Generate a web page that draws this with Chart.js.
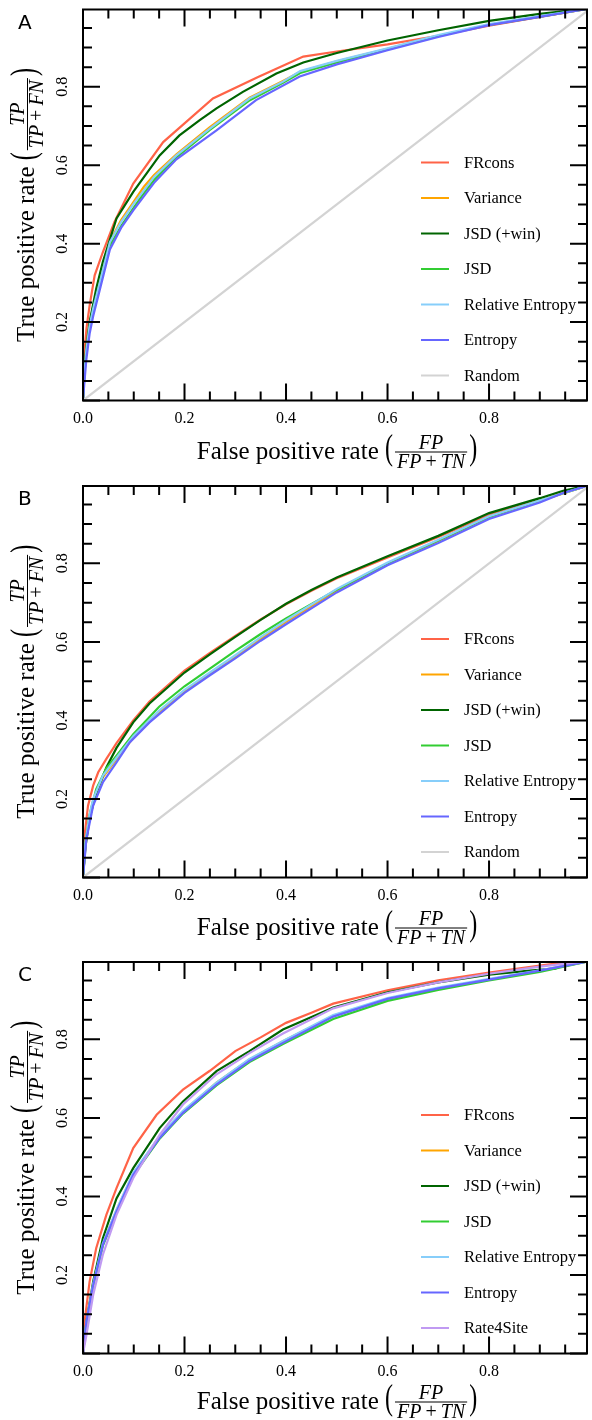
<!DOCTYPE html>
<html lang="en">
<head>
<meta charset="UTF-8" />
<title>ROC curves</title>
<script src="https://cdn.jsdelivr.net/npm/chart.js"></script>
<style>
  body { margin: 0; background: #fff; }
  canvas { display: block; }
</style>
</head>
<body>
<canvas id="rocA" width="592" height="473"></canvas>
<canvas id="rocB" width="592" height="473"></canvas>
<canvas id="rocC" width="592" height="474"></canvas>

<script>
// ---- data: [false positive rate, true positive rate] ----

// panel A
const frconsA = [[0,0],[0.002,0.09],[0.004,0.14],[0.007,0.185],[0.013,0.242],[0.023,0.319],[0.039,0.378],[0.062,0.455],[0.099,0.553],[0.158,0.659],[0.256,0.770],[0.345,0.825],[0.434,0.877],[0.5,0.89],[0.6,0.908],[0.7,0.93],[0.8,0.956],[0.9,0.978],[1,1]];
const varianceA = [[0,0],[0.003,0.075],[0.0066,0.135],[0.013,0.195],[0.02,0.24],[0.033,0.305],[0.053,0.405],[0.075,0.46],[0.099,0.505],[0.12,0.545],[0.14,0.575],[0.184,0.628],[0.25,0.697],[0.328,0.772],[0.394,0.815],[0.428,0.838],[0.5,0.865],[0.6,0.897],[0.7,0.93],[0.8,0.958],[0.9,0.979],[1,1]];
const jsdWinA = [[0,0],[0.003,0.08],[0.006,0.13],[0.013,0.2],[0.026,0.285],[0.039,0.353],[0.066,0.464],[0.099,0.532],[0.151,0.625],[0.19,0.676],[0.23,0.715],[0.263,0.745],[0.315,0.787],[0.381,0.834],[0.434,0.862],[0.5,0.886],[0.6,0.918],[0.7,0.944],[0.8,0.968],[0.9,0.986],[1,1]];
const jsdA = [[0,0],[0.003,0.07],[0.0066,0.125],[0.013,0.185],[0.02,0.228],[0.033,0.295],[0.053,0.395],[0.075,0.445],[0.099,0.49],[0.115,0.52],[0.14,0.562],[0.184,0.62],[0.25,0.69],[0.328,0.765],[0.394,0.81],[0.428,0.835],[0.5,0.862],[0.6,0.896],[0.7,0.93],[0.8,0.958],[0.9,0.979],[1,1]];
const relEntA = [[0,0],[0.003,0.07],[0.0066,0.13],[0.013,0.19],[0.02,0.234],[0.033,0.3],[0.053,0.404],[0.075,0.455],[0.099,0.5],[0.14,0.57],[0.184,0.625],[0.25,0.693],[0.328,0.77],[0.394,0.813],[0.428,0.84],[0.5,0.866],[0.6,0.898],[0.7,0.932],[0.8,0.96],[0.9,0.98],[1,1]];
const entropyA = [[0,0],[0.003,0.05],[0.0066,0.105],[0.013,0.17],[0.02,0.215],[0.033,0.282],[0.053,0.385],[0.075,0.44],[0.099,0.485],[0.14,0.555],[0.184,0.615],[0.263,0.689],[0.341,0.766],[0.427,0.826],[0.5,0.857],[0.6,0.893],[0.7,0.927],[0.8,0.957],[0.9,0.978],[1,1]];

// panel B
const frconsB = [[0,0],[0.003,0.106],[0.0099,0.183],[0.02,0.234],[0.03,0.268],[0.046,0.302],[0.066,0.342],[0.099,0.4],[0.131,0.448],[0.2,0.527],[0.25,0.572],[0.3,0.615],[0.35,0.657],[0.4,0.696],[0.45,0.73],[0.5,0.762],[0.6,0.815],[0.7,0.867],[0.8,0.924],[0.9,0.963],[1,1]];
const varianceB = [[0,0],[0.005,0.086],[0.013,0.156],[0.02,0.196],[0.039,0.255],[0.066,0.301],[0.099,0.356],[0.15,0.421],[0.2,0.474],[0.25,0.518],[0.3,0.562],[0.35,0.608],[0.4,0.651],[0.5,0.731],[0.6,0.798],[0.7,0.857],[0.8,0.918],[0.9,0.959],[1,1]];
const jsdWinB = [[0,0],[0.005,0.08],[0.013,0.15],[0.026,0.215],[0.046,0.28],[0.066,0.33],[0.099,0.395],[0.131,0.443],[0.2,0.522],[0.25,0.568],[0.3,0.613],[0.35,0.656],[0.4,0.697],[0.45,0.732],[0.5,0.764],[0.6,0.818],[0.7,0.87],[0.8,0.928],[0.9,0.966],[0.946,0.985],[1,1]];
const jsdB = [[0,0],[0.005,0.09],[0.013,0.16],[0.026,0.225],[0.046,0.278],[0.066,0.31],[0.099,0.365],[0.15,0.435],[0.2,0.487],[0.25,0.532],[0.3,0.577],[0.35,0.62],[0.4,0.66],[0.5,0.733],[0.6,0.8],[0.7,0.858],[0.8,0.918],[0.9,0.96],[1,1]];
const relEntB = [[0,0],[0.005,0.09],[0.013,0.16],[0.02,0.2],[0.039,0.259],[0.066,0.305],[0.099,0.36],[0.15,0.425],[0.2,0.478],[0.25,0.522],[0.3,0.566],[0.35,0.612],[0.4,0.655],[0.5,0.735],[0.6,0.802],[0.7,0.86],[0.8,0.92],[0.9,0.96],[1,1]];
const entropyB = [[0,0],[0.0066,0.097],[0.02,0.183],[0.039,0.242],[0.066,0.293],[0.092,0.344],[0.131,0.395],[0.2,0.47],[0.25,0.515],[0.3,0.558],[0.35,0.603],[0.4,0.645],[0.5,0.726],[0.6,0.795],[0.7,0.852],[0.8,0.913],[0.9,0.955],[0.946,0.979],[1,1]];

// panel C
const frconsC = [[0,0],[0.003,0.08],[0.013,0.183],[0.026,0.268],[0.046,0.353],[0.066,0.421],[0.099,0.523],[0.145,0.608],[0.197,0.672],[0.25,0.72],[0.3,0.77],[0.35,0.805],[0.4,0.842],[0.45,0.868],[0.493,0.891],[0.6,0.925],[0.7,0.95],[0.8,0.97],[0.9,0.988],[0.95,0.996],[1,1]];
const varianceC = [[0,0],[0.0066,0.08],[0.02,0.176],[0.039,0.279],[0.066,0.365],[0.099,0.458],[0.151,0.552],[0.197,0.616],[0.263,0.69],[0.328,0.749],[0.394,0.795],[0.493,0.86],[0.6,0.903],[0.7,0.93],[0.8,0.952],[0.9,0.975],[1,1]];
const jsdWinC = [[0,0],[0.0066,0.08],[0.02,0.183],[0.039,0.293],[0.066,0.395],[0.099,0.472],[0.151,0.574],[0.197,0.642],[0.263,0.719],[0.328,0.77],[0.394,0.825],[0.493,0.881],[0.6,0.92],[0.7,0.945],[0.8,0.965],[0.88,0.975],[0.93,0.98],[0.96,0.995],[1,1]];
const jsdC = [[0,0],[0.0066,0.078],[0.02,0.172],[0.039,0.274],[0.066,0.36],[0.099,0.453],[0.151,0.547],[0.197,0.611],[0.263,0.683],[0.328,0.742],[0.394,0.788],[0.493,0.852],[0.6,0.898],[0.7,0.926],[0.8,0.95],[0.9,0.972],[1,1]];
const relEntC = [[0,0],[0.0066,0.08],[0.02,0.177],[0.039,0.28],[0.066,0.366],[0.099,0.46],[0.151,0.554],[0.197,0.618],[0.263,0.69],[0.328,0.75],[0.394,0.796],[0.493,0.862],[0.6,0.905],[0.7,0.932],[0.8,0.954],[0.9,0.976],[1,1]];
const entropyC = [[0,0],[0.0066,0.08],[0.02,0.174],[0.039,0.276],[0.066,0.361],[0.099,0.455],[0.151,0.549],[0.197,0.613],[0.263,0.685],[0.328,0.745],[0.394,0.791],[0.493,0.858],[0.6,0.903],[0.7,0.93],[0.8,0.952],[0.9,0.975],[1,1]];
const rate4siteC = [[0,0],[0.0066,0.046],[0.02,0.149],[0.039,0.251],[0.066,0.353],[0.099,0.447],[0.151,0.557],[0.197,0.634],[0.263,0.711],[0.328,0.765],[0.394,0.815],[0.493,0.879],[0.6,0.918],[0.7,0.945],[0.8,0.967],[0.9,0.985],[1,1]];

const randomLine = [[0,0],[1,1]];

// ---- labels, colours, ticks ----
const labelsAB = ["FRcons", "Variance", "JSD (+win)", "JSD", "Relative Entropy", "Entropy", "Random"];
const labelsC = ["FRcons", "Variance", "JSD (+win)", "JSD", "Relative Entropy", "Entropy", "Rate4Site"];
const colorsAB = ["#ff6347", "#ffa500", "#006400", "#32cd32", "#87cefa", "#6666ff", "#d3d3d3"];
const colorsC = ["#ff6347", "#ffa500", "#006400", "#32cd32", "#87cefa", "#6666ff", "#c09af2"];

const xMajor = [0, 0.2, 0.4, 0.6, 0.8];
const xMajorLabels = ["0.0", "0.2", "0.4", "0.6", "0.8"];
const yMajor = [0, 0.2, 0.4, 0.6, 0.8];
const yMajorLabels = ["", "0.2", "0.4", "0.6", "0.8"];
const minorTicks = [0.05, 0.1, 0.15, 0.25, 0.3, 0.35, 0.45, 0.5, 0.55, 0.65, 0.7, 0.75, 0.85, 0.9, 0.95];

const SERIF = '"Liberation Serif", "DejaVu Serif", serif';
const OP_GAP = 4; // space around "+" in the fractions

function runFont(st, size) {
  return (st === "i" ? "italic " : "") + size + "px " + SERIF;
}
function measureRuns(ctx, runs, size) {
  let w = 0;
  for (const [t, st] of runs) {
    ctx.font = runFont(st, size);
    w += ctx.measureText(t).width + (st === "op" ? 2 * OP_GAP : 0);
  }
  return w;
}
function drawRuns(ctx, runs, size, x, y) {
  for (const [t, st] of runs) {
    ctx.font = runFont(st, size);
    if (st === "op") x += OP_GAP;
    ctx.fillText(t, x, y);
    x += ctx.measureText(t).width + (st === "op" ? OP_GAP : 0);
  }
}

// thin, tall parenthesis (like \left( in LaTeX)
function drawParen(ctx, ch, x) {
  ctx.save();
  ctx.font = "24px " + SERIF;
  ctx.translate(x, 0);
  ctx.scale(1, 1.45);
  ctx.fillText(ch, 0, 5.5);
  ctx.restore();
}

// axis title like "False positive rate (FP / (FP+TN))", centred on (cx, cy)
function drawFracTitle(ctx, cx, cy, angle, prefix, num, den) {
  const fs = 20;
  ctx.save();
  ctx.translate(cx, cy);
  ctx.rotate(angle);
  ctx.fillStyle = "#000";
  ctx.textAlign = "left";
  ctx.textBaseline = "alphabetic";
  ctx.font = "25px " + SERIF;
  const wPre = ctx.measureText(prefix + " ").width;
  ctx.font = "24px " + SERIF;
  const wPar = ctx.measureText("(").width;
  const wNum = measureRuns(ctx, num, fs);
  const wDen = measureRuns(ctx, den, fs);
  const wFrac = Math.max(wNum, wDen) + 4;
  const total = wPre + wPar * 2 + wFrac + 4;
  let x = -total / 2;
  ctx.font = "25px " + SERIF;
  ctx.fillText(prefix, x, 7);
  x += wPre;
  drawParen(ctx, "(", x);
  x += wPar + 2;
  drawRuns(ctx, num, fs, x + (wFrac - wNum) / 2, -3);
  drawRuns(ctx, den, fs, x + (wFrac - wDen) / 2, 16);
  ctx.strokeStyle = "#000";
  ctx.lineWidth = 1;
  ctx.beginPath();
  ctx.moveTo(x, 0.5);
  ctx.lineTo(x + wFrac, 0.5);
  ctx.stroke();
  x += wFrac + 2;
  drawParen(ctx, ")", x);
  ctx.restore();
}

const framePlugin = {
  id: "frame",
  afterDraw(chart, args, opts) {
    const ctx = chart.ctx;
    const a = chart.chartArea;
    const xs = chart.scales.x, ys = chart.scales.y;
    ctx.save();
    ctx.strokeStyle = "#000";
    ctx.lineWidth = 2;
    ctx.lineCap = "butt";
    // inward ticks on all four sides
    const tick = (len, vals) => {
      for (const v of vals) {
        const px = xs.getPixelForValue(v);
        const py = ys.getPixelForValue(v);
        ctx.beginPath();
        ctx.moveTo(px, a.bottom); ctx.lineTo(px, a.bottom - len);
        ctx.moveTo(px, a.top); ctx.lineTo(px, a.top + len);
        ctx.moveTo(a.left, py); ctx.lineTo(a.left + len, py);
        ctx.moveTo(a.right, py); ctx.lineTo(a.right - len, py);
        ctx.stroke();
      }
    };
    tick(9, minorTicks);
    tick(17, xMajor);
    ctx.strokeRect(a.left, a.top, a.right - a.left, a.bottom - a.top);

    // tick labels
    ctx.fillStyle = "#000";
    ctx.font = "16px " + SERIF;
    ctx.textAlign = "center";
    ctx.textBaseline = "middle";
    xMajor.forEach((v, i) => {
      ctx.fillText(xMajorLabels[i], xs.getPixelForValue(v), a.bottom + 18);
    });
    yMajor.forEach((v, i) => {
      if (!yMajorLabels[i]) return;
      ctx.save();
      ctx.translate(a.left - 20, ys.getPixelForValue(v));
      ctx.rotate(-Math.PI / 2);
      ctx.fillText(yMajorLabels[i], 0, 0);
      ctx.restore();
    });

    // legend inside the plot
    const ds = chart.data.datasets;
    ds.forEach((d, i) => {
      const y = a.top + 153 + i * 35.5;
      ctx.strokeStyle = d.borderColor;
      ctx.lineWidth = 2;
      ctx.beginPath();
      ctx.moveTo(421, y); ctx.lineTo(449, y);
      ctx.stroke();
      ctx.fillStyle = "#000";
      ctx.font = "16.5px " + SERIF;
      ctx.textAlign = "left";
      ctx.textBaseline = "middle";
      ctx.fillText(d.label, 464, y + 1);
    });

    // axis titles
    drawFracTitle(ctx, (a.left + a.right) / 2 + 2, a.bottom + opts.titleGap, 0,
      "False positive rate", [["FP", "i"]], [["FP", "i"], ["+", "op"], ["TN", "i"]]);
    drawFracTitle(ctx, a.left - 56, (a.top + a.bottom) / 2, -Math.PI / 2,
      "True positive rate", [["TP", "i"]], [["TP", "i"], ["+", "op"], ["FN", "i"]]);

    // panel letter
    ctx.fillStyle = "#000";
    ctx.font = '20px "DejaVu Sans", sans-serif';
    ctx.textAlign = "left";
    ctx.textBaseline = "alphabetic";
    ctx.fillText(opts.letter, 18, a.top + 19);
    ctx.restore();
  }
};

function makePanel(id, letter, curves, labels, colors, padTop, padBottom, titleGap) {
  const n = curves.length;
  const datasets = curves.map((pts, i) => ({
    label: labels[i],
    data: pts.map(p => ({ x: p[0], y: p[1] })),
    borderColor: colors[i],
    backgroundColor: colors[i],
    borderWidth: 2.2,
    pointRadius: 0,
    tension: 0,
    fill: false,
    order: n - i
  }));
  new Chart(document.getElementById(id), {
    type: "line",
    data: { datasets },
    options: {
      responsive: false,
      animation: false,
      layout: { padding: { left: 83, right: 5, top: padTop, bottom: padBottom } },
      scales: {
        x: { type: "linear", min: 0, max: 0.993, display: false },
        y: { type: "linear", min: 0, max: 0.997, display: false }
      },
      plugins: {
        legend: { display: false },
        tooltip: { enabled: false },
        frame: { letter, titleGap }
      }
    },
    plugins: [framePlugin]
  });
}

makePanel("rocA", "A",
  [frconsA, varianceA, jsdWinA, jsdA, relEntA, entropyA, randomLine],
  labelsAB, colorsAB, 9.5, 72.5, 51);
makePanel("rocB", "B",
  [frconsB, varianceB, jsdWinB, jsdB, relEntB, entropyB, randomLine],
  labelsAB, colorsAB, 13, 68.5, 50);
makePanel("rocC", "C",
  [frconsC, varianceC, jsdWinC, jsdC, relEntC, entropyC, rate4siteC],
  labelsC, colorsC, 16, 66.5, 48);
</script>
</body>
</html>
